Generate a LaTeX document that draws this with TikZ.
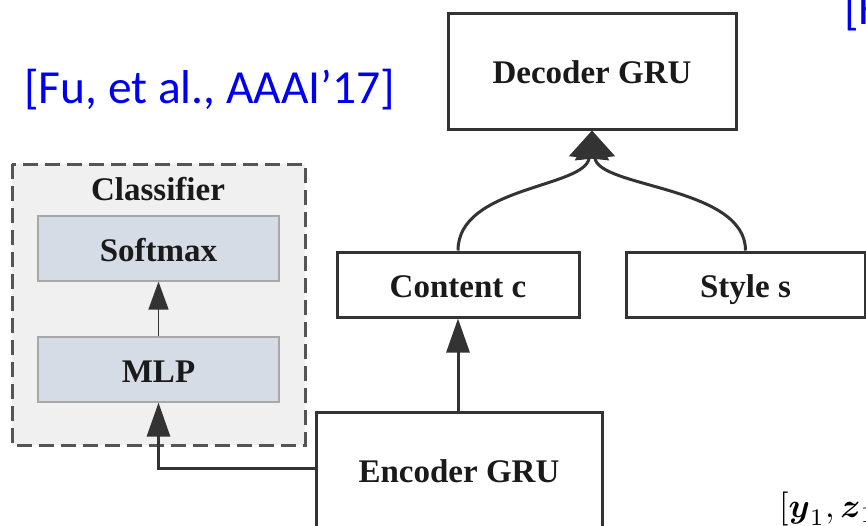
\documentclass[tikz,border=0pt]{standalone}
\usepackage{amsmath}
\usepackage{graphicx}
\usepackage{fontspec}
\setmainfont{Liberation Serif}
\newfontfamily\citefont{Carlito}
\usetikzlibrary{arrows.meta}

\definecolor{boxline}{HTML}{333333}
\definecolor{txt}{HTML}{1A1A1A}
\definecolor{subfill}{HTML}{D6DCE6}
\definecolor{subline}{HTML}{A8A8A8}
\definecolor{groupfill}{HTML}{F0F0F0}
\definecolor{groupline}{HTML}{555555}
\definecolor{citeblue}{HTML}{0000F0}

\begin{document}
\begin{tikzpicture}[x=1pt,y=-1pt,
  lbl/.style={text=txt, font=\bfseries\fontsize{33}{33}\selectfont, inner sep=0pt,
    text height=25pt, text depth=0pt},
  block/.style={lbl, draw=boxline, line width=3pt, fill=white},
  subblock/.style={lbl, draw=subline, line width=1.2pt, fill=subfill,
    minimum width=241pt, minimum height=65pt},
  group/.style={draw=groupline, line width=3pt, fill=groupfill,
    dash pattern=on 15pt off 7pt},
  conn/.style={draw=boxline, line width=3pt, -{Triangle[length=34pt,width=23pt]}},
  thinconn/.style={draw=boxline, line width=1.5pt, -{Triangle[length=28pt,width=20pt]}},
  curv/.style={draw=boxline, line width=3pt, -{Triangle[length=28pt,width=40pt]}},
  cite/.style={text=citeblue, font=\citefont\fontsize{47.5}{47.5}\selectfont, inner sep=0pt}]

\useasboundingbox (0,0) rectangle (866,525);
\fill[white] (0,0) rectangle (866,525);
\clip (0,0) rectangle (866,525);

% classifier group
\draw[group] (12,164) rectangle (305,445);
\node[lbl, text height=, anchor=base] (clf) at (158,200) {Classifier};
\node[subblock] (softmax) at (158.5,248.5) {Softmax};
\node[subblock] (mlp) at (158.5,369.5) {MLP};

% encoder / decoder blocks
\node[block, minimum width=288pt, minimum height=116pt] (decoder) at (592,71) {Decoder GRU};
\node[block, minimum width=242pt, minimum height=65pt] (content) at (458,284.5) {Content c};
\node[block, minimum width=239pt, minimum height=65pt] (style) at (745.5,284.5) {Style s};
\node[block, minimum width=286pt, minimum height=115pt] (encoder) at (459,469.5) {Encoder GRU};

% connectors
\draw[thinconn] (mlp.north) -- (softmax.south);
\draw[conn] ([yshift=1.5pt]encoder.west) -| (mlp.south);
\draw[conn] (content.south |- encoder.north) -- (content.south);
\draw[curv] (content.north) .. controls (458,186) and (586,188) .. (decoder.south);
\draw[curv] (style.north) .. controls (745.5,186) and (598,188) .. (decoder.south);

% citations
\node[cite, anchor=base west] (fu) at (24,103) {[Fu, et al., AAAI’17]};
\node[cite, anchor=base west] (hu) at (844,24) {[H};
\node[anchor=base west, inner sep=0pt, text=black] (eq) at (779,517)
  {\scalebox{3.4}{$[\boldsymbol{y}_1,\boldsymbol{z}_1$}};
\end{tikzpicture}
\end{document}
